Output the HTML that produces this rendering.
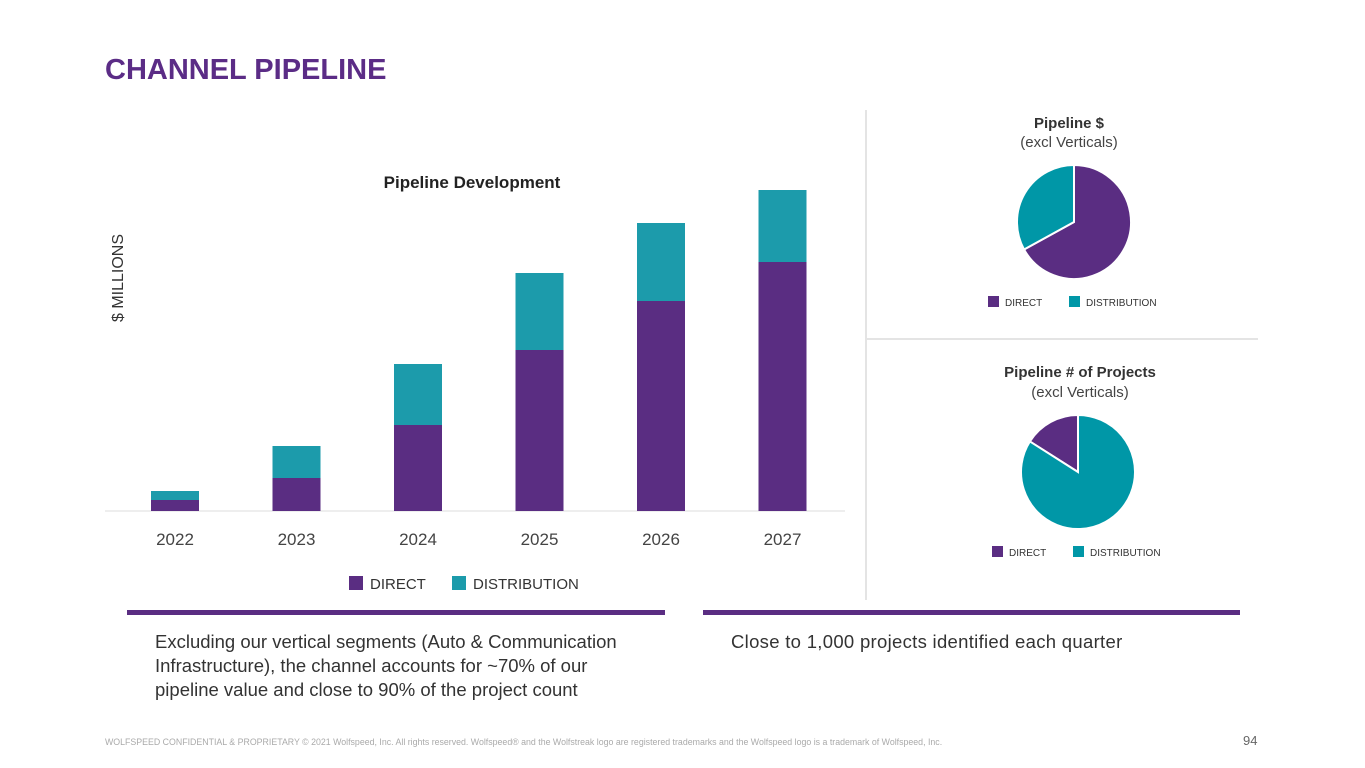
<!DOCTYPE html>
<html><head><meta charset="utf-8"><style>
body{margin:0;width:1365px;height:768px;background:#fff;font-family:"Liberation Sans",sans-serif;position:relative;overflow:hidden}
.abs{position:absolute}
</style></head><body>
<div class="abs" style="left:105px;top:54px;font-size:29px;font-weight:bold;color:#5b2c86">CHANNEL PIPELINE</div>
<svg class="abs" style="left:0;top:0" width="1365" height="768">
<text x="472" y="188" text-anchor="middle" font-size="17" font-weight="bold" fill="#222">Pipeline Development</text>
<text transform="translate(123,278) rotate(-90)" text-anchor="middle" font-size="16" fill="#333">$ MILLIONS</text>
<line x1="105" y1="511" x2="845" y2="511" stroke="#ddd"/>
<g id="bars"></g>
<rect x="349" y="576" width="14" height="14" fill="#5a2d82"/>
<text x="370" y="589" font-size="15" fill="#333">DIRECT</text>
<rect x="452" y="576" width="14" height="14" fill="#1c9bab"/>
<text x="473" y="589" font-size="15" fill="#333">DISTRIBUTION</text>
<line x1="866" y1="110" x2="866" y2="600" stroke="#e4e4e4" stroke-width="2"/>
<line x1="866" y1="339" x2="1258" y2="339" stroke="#e4e4e4" stroke-width="2"/>
<text x="1069" y="128" text-anchor="middle" font-size="15" font-weight="bold" fill="#333">Pipeline $</text>
<text x="1069" y="147" text-anchor="middle" font-size="15" fill="#444">(excl Verticals)</text>
<g id="pie1"></g>
<rect x="988" y="296" width="11" height="11" fill="#5a2d82"/>
<text x="1005" y="306" font-size="10" fill="#333">DIRECT</text>
<rect x="1069" y="296" width="11" height="11" fill="#0097a7"/>
<text x="1086" y="306" font-size="10" fill="#333">DISTRIBUTION</text>
<text x="1080" y="377" text-anchor="middle" font-size="15" font-weight="bold" fill="#333">Pipeline # of Projects</text>
<text x="1080" y="397" text-anchor="middle" font-size="15" fill="#444">(excl Verticals)</text>
<g id="pie2"></g>
<rect x="992" y="546" width="11" height="11" fill="#5a2d82"/>
<text x="1009" y="556" font-size="10" fill="#333">DIRECT</text>
<rect x="1073" y="546" width="11" height="11" fill="#0097a7"/>
<text x="1090" y="556" font-size="10" fill="#333">DISTRIBUTION</text>
<rect x="127" y="610" width="538" height="5" fill="#5a2d82"/>
<rect x="703" y="610" width="537" height="5" fill="#5a2d82"/>
</svg>
<div class="abs" style="left:155px;top:630px;font-size:18.5px;line-height:24px;color:#333;width:500px">Excluding our vertical segments (Auto &amp; Communication Infrastructure), the channel accounts for ~70% of our pipeline value and close to 90% of the project count</div>
<div class="abs" style="left:731px;top:630px;font-size:18.5px;line-height:24px;color:#333;letter-spacing:0.3px">Close to 1,000 projects identified each quarter</div>
<div class="abs" style="left:105px;top:737px;font-size:8.8px;color:#aaa;white-space:nowrap">WOLFSPEED CONFIDENTIAL &amp; PROPRIETARY © 2021 Wolfspeed, Inc. All rights reserved. Wolfspeed® and the Wolfstreak logo are registered trademarks and the Wolfspeed logo is a trademark of Wolfspeed, Inc.</div>
<div class="abs" style="left:1243px;top:733px;font-size:13px;color:#666">94</div>
<script>
const years=["2022","2023","2024","2025","2026","2027"];
const direct=[11,33,86,161,210,249];
const distribution=[9,32,61,77,78,72];
const pie1Values=[67,33];
const pie2Values=[16,84];
const NS="http://www.w3.org/2000/svg";
const baseY=511, x0=115, step=121.5, bw=48;
function yScale(v){return v*1.0;}
const g=document.getElementById('bars');
years.forEach((yr,i)=>{
  const cx=x0+step*i+60;
  const hd=yScale(direct[i]), hs=yScale(distribution[i]);
  const r1=document.createElementNS(NS,'rect');
  r1.setAttribute('x',cx-bw/2);r1.setAttribute('y',baseY-hd);r1.setAttribute('width',bw);r1.setAttribute('height',hd);r1.setAttribute('fill','#5a2d82');
  
  
  g.appendChild(r1);
  const r2=document.createElementNS(NS,'rect');
  r2.setAttribute('x',cx-bw/2);r2.setAttribute('y',baseY-hd-hs);r2.setAttribute('width',bw);r2.setAttribute('height',hs);r2.setAttribute('fill','#1c9bab');
  
  
  g.appendChild(r2);
  const t=document.createElementNS(NS,'text');
  t.setAttribute('x',cx);t.setAttribute('y',545);t.setAttribute('text-anchor','middle');t.setAttribute('font-size','17');t.setAttribute('fill','#444');
  t.textContent=yr;
  
  
  g.appendChild(t);
});
function pie(id,cx,cy,r,vals,startDeg,prefix){
  const gp=document.getElementById(id);
  const tot=vals.reduce((a,b)=>a+b,0);
  const cols=['#5a2d82','#0097a7'];const names=['direct','distribution'];
  let a=startDeg;
  vals.forEach((v,i)=>{
    const a2=a+v/tot*360;
    const p=d=>[cx+r*Math.sin(d*Math.PI/180),cy-r*Math.cos(d*Math.PI/180)];
    const [x1,y1]=p(a),[x2,y2]=p(a2);
    const path=document.createElementNS(NS,'path');
    path.setAttribute('d',`M${cx},${cy}L${x1},${y1}A${r},${r} 0 ${a2-a>180?1:0} 1 ${x2},${y2}Z`);
    path.setAttribute('fill',cols[i]);path.setAttribute('stroke','#fff');path.setAttribute('stroke-width','2');
    
    
    gp.appendChild(path);
    a=a2;
  });
}
pie('pie1',1074,222,57,pie1Values,0,'pie1');
pie('pie2',1078,472,57,pie2Values,-pie2Values[0]/(pie2Values[0]+pie2Values[1])*360,'pie2');
</script>
</body></html>
